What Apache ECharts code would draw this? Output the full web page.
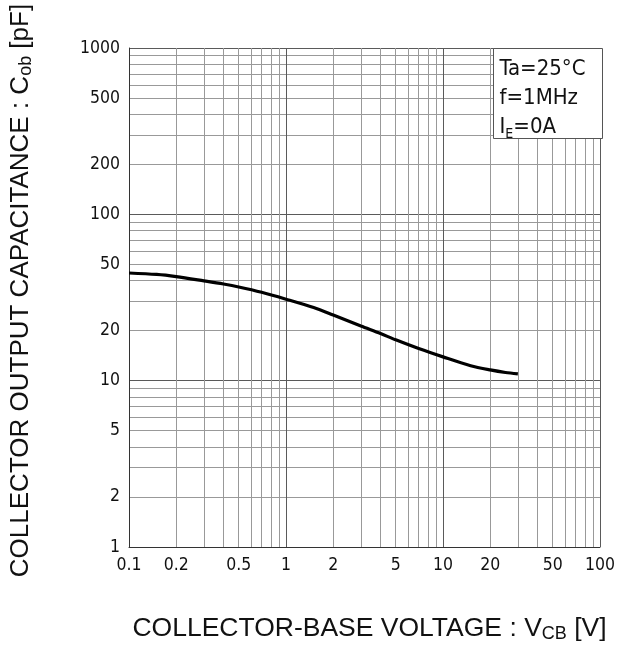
<!DOCTYPE html>
<html>
<head>
<meta charset="utf-8">
<script src="https://cdn.jsdelivr.net/npm/echarts@6/dist/echarts.min.js"></script>
<style>
html,body{margin:0;padding:0;background:#fff;}
#c{width:618px;height:648px;}
</style>
</head>
<body>
<div id="c"></div>
<script>
// Collector-base voltage VCB [V]
var vcb = [0.1, 0.15, 0.2, 0.3, 0.4, 0.5, 0.7, 1, 1.5, 2, 3, 4, 5, 7, 10, 15, 20, 25, 30];
// Collector output capacitance Cob [pF]
var cob = [44.4, 43.5, 42.2, 39.8, 38.1, 36.6, 34, 30.9, 27.5, 24.8, 21.3, 19.2, 17.6, 15.6, 13.9, 12.3, 11.6, 11.2, 11.0];
var xTicks = [0.1, 0.2, 0.5, 1, 2, 5, 10, 20, 50, 100];
var yTicks = [1, 2, 5, 10, 20, 50, 100, 200, 500, 1000];

var tickFont = '"Liberation Sans Narrow","DejaVu Sans Condensed","Liberation Sans",sans-serif';
var titleFont = '"Liberation Sans",Arial,sans-serif';

var chart = echarts.init(document.getElementById('c'));
chart.setOption({
  animation: false,
  grid: {left: 127, right: 16, top: 48, bottom: 101, containLabel: false},
  xAxis: {
    type: 'log', logBase: 10, min: 0.1, max: 100,
    name: '{n|COLLECTOR-BASE VOLTAGE : V}{s|CB}{n| [V]}',
    nameLocation: 'middle', nameGap: 68,
    nameTextStyle: {padding: [0, 0, 0, 10], rich: {
      n: {fontFamily: titleFont, fontSize: 26.5, color: '#111'},
      s: {fontFamily: titleFont, fontSize: 18, color: '#111', verticalAlign: 'bottom', padding: [10, 0, 0, 0]}
    }},
    axisLine: {show: true, lineStyle: {color: '#333', width: 1}},
    axisTick: {show: false},
    axisLabel: {customValues: xTicks, fontFamily: tickFont, fontSize: 17.5, color: '#111', margin: 9,
      formatter: function (v) { return String(+v.toPrecision(3)); }},
    splitLine: {show: true, lineStyle: {color: '#5a5a5a', width: 1}},
    minorTick: {show: false, splitNumber: 9},
    minorSplitLine: {show: true, lineStyle: {color: '#999', width: 1}}
  },
  yAxis: {
    type: 'log', logBase: 10, min: 1, max: 1000,
    name: '{n|COLLECTOR OUTPUT CAPACITANCE : C}{s|ob}{n| [pF]}',
    nameLocation: 'middle', nameGap: 94, nameRotate: 90,
    nameTextStyle: {padding: [0, 0, 0, 14], rich: {
      n: {fontFamily: titleFont, fontSize: 26, color: '#111'},
      s: {fontFamily: titleFont, fontSize: 18, color: '#111', verticalAlign: 'bottom', padding: [10, 0, 0, 0]}
    }},
    axisLine: {show: true, lineStyle: {color: '#333', width: 1}},
    axisTick: {show: false},
    axisLabel: {customValues: yTicks, fontFamily: tickFont, fontSize: 17.5, color: '#111', margin: 9,
      formatter: function (v) { return String(+v.toPrecision(3)); }},
    splitLine: {show: true, lineStyle: {color: '#5a5a5a', width: 1}},
    minorTick: {show: false, splitNumber: 9},
    minorSplitLine: {show: true, lineStyle: {color: '#999', width: 1}}
  },
  series: [{
    type: 'line',
    data: vcb.map(function (x, i) { return [x, cob[i]]; }),
    smooth: 0.3,
    showSymbol: false,
    lineStyle: {color: '#000', width: 3.2}
  }],
  graphic: [{
    type: 'group', left: 493, top: 48, z: 100,
    children: [
      {type: 'rect', z: 100, shape: {x: 0, y: 0, width: 109, height: 90},
       style: {fill: '#fff', stroke: '#555', lineWidth: 1}},
      {type: 'text', z: 101, x: 6, y: 6, style: {
        text: '{n|Ta=25°C}\n{n|f=1MHz}\n{n|I}{s|E}{n|=0A}',
        rich: {
          n: {fontFamily: tickFont, fontSize: 22, lineHeight: 29, fill: '#111'},
          s: {fontFamily: tickFont, fontSize: 14, lineHeight: 29, fill: '#111', verticalAlign: 'bottom', padding: [6, 0, 0, 0]}
        }
      }}
    ]
  }]
});
</script>
</body>
</html>
